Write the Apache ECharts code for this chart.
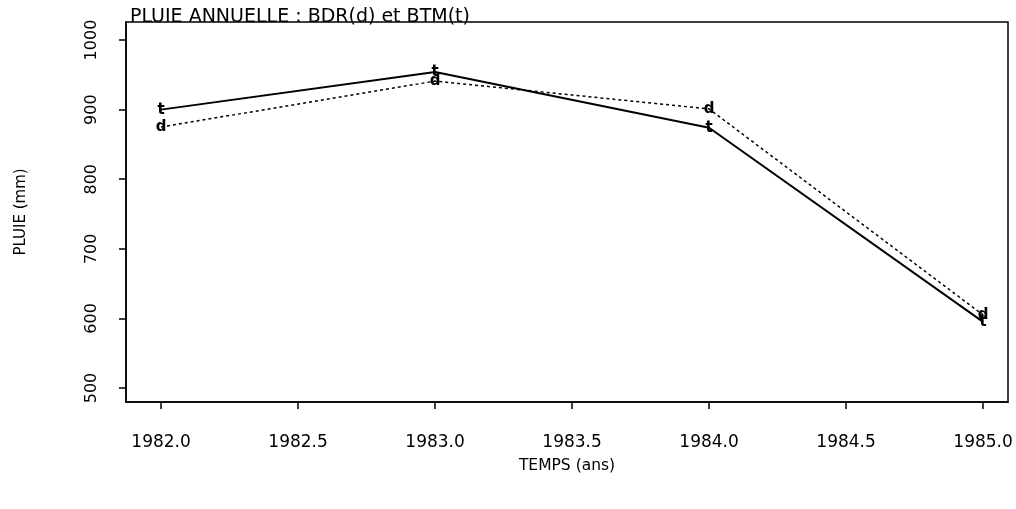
<!DOCTYPE html>
<html>
<head>
<meta charset="utf-8">
<script src="https://cdn.jsdelivr.net/npm/echarts@6/dist/echarts.min.js"></script>
<style>
html,body{margin:0;padding:0;background:#fff;}
#chart{width:1016px;height:509px;}
</style>
</head>
<body>
<div id="chart"></div>
<script>
// Annual rainfall (mm) per year for two stations
const years = [1982, 1983, 1984, 1985];
const btm = [900, 954, 874, 595];   // BTM (t), solid line
const bdr = [875, 941, 901, 605];   // BDR (d), dotted line
const xTicks = [1982.0, 1982.5, 1983.0, 1983.5, 1984.0, 1984.5, 1985.0];
const yTicks = [500, 600, 700, 800, 900, 1000];

const font = '"DejaVu Sans", Verdana, sans-serif';

function pairs(xs, ys) { return xs.map((x, i) => [x, ys[i]]); }

// A line whose points are marked by a letter centred on each value
function letterSeries(name, values, letter, lineType, width) {
  return {
    name: name,
    type: 'line',
    data: pairs(years, values),
    symbol: 'circle',
    symbolSize: 1,
    showSymbol: true,
    itemStyle: { color: 'rgba(0,0,0,0)' },
    lineStyle: { color: '#000', width: width, type: lineType },
    label: {
      show: true, position: 'inside', formatter: letter,
      color: '#000', fontFamily: font, fontSize: 15, fontWeight: 'bold'
    },
    labelLayout: { hideOverlap: false },
    silent: true,
    animation: false
  };
}

const chart = echarts.init(document.getElementById('chart'));
chart.setOption({
  backgroundColor: '#fff',
  animation: false,
  title: {
    text: 'PLUIE ANNUELLE : BDR(d) et BTM(t)',
    left: 125, top: 3,
    textStyle: { fontFamily: font, fontSize: 19, fontWeight: 'normal', color: '#000' }
  },
  grid: {
    left: 126, right: 8, top: 22, bottom: 107,
    show: true, borderColor: '#000', borderWidth: 1.5, backgroundColor: '#fff'
  },
  xAxis: {
    type: 'value',
    min: 1981.872, max: 1985.091,
    name: 'TEMPS (ans)', nameLocation: 'middle', nameGap: 56,
    nameTextStyle: { fontFamily: font, fontSize: 15.5, color: '#000' },
    axisLine: { show: true, onZero: false, lineStyle: { color: '#000', width: 1.5 } },
    axisTick: { show: true, customValues: xTicks, length: 7, lineStyle: { color: '#000', width: 1.5 } },
    axisLabel: {
      customValues: xTicks, margin: 32,
      formatter: v => v.toFixed(1),
      fontFamily: font, fontSize: 17, color: '#000'
    },
    splitLine: { show: false }
  },
  yAxis: {
    type: 'value',
    min: 479.9, max: 1025.9,
    name: 'PLUIE (mm)', nameLocation: 'middle', nameGap: 97, nameRotate: 90,
    nameTextStyle: { fontFamily: font, fontSize: 15, color: '#000' },
    axisLine: { show: true, onZero: false, lineStyle: { color: '#000', width: 1.5 } },
    axisTick: { show: true, customValues: yTicks, length: 7, lineStyle: { color: '#000', width: 1.5 } },
    axisLabel: {
      customValues: yTicks, rotate: 90, margin: 26,
      formatter: v => String(v),
      fontFamily: font, fontSize: 16, color: '#000'
    },
    splitLine: { show: false }
  },
  series: [
    letterSeries('BTM', btm, 't', 'solid', 2),
    letterSeries('BDR', bdr, 'd', [3, 3], 1.5)
  ]
});
</script>
</body>
</html>
